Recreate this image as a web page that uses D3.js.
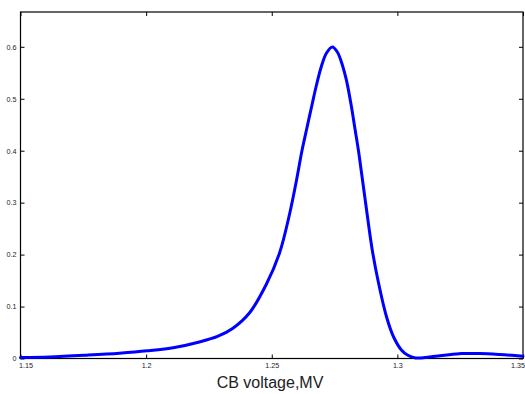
<!DOCTYPE html>
<html>
<head>
<meta charset="utf-8">
<script src="https://cdn.jsdelivr.net/npm/d3@7"></script>
<style>
html,body{margin:0;padding:0;background:#fff;}
svg{display:block;}
</style>
</head>
<body>
<svg id="chart" width="525" height="394"></svg>
<script>
const voltage = [1.1500,1.1615,1.1763,1.1894,1.2005,1.2113,1.2212,1.2284,1.2344,1.2411,1.2479,1.2531,1.2571,1.2598,1.2620,1.2639,1.2661,1.2678,1.2698,1.2718,1.2741,1.2761,1.2781,1.2797,1.2816,1.2832,1.2846,1.2872,1.2900,1.2925,1.2957,1.2985,1.3016,1.3040,1.3072,1.3128,1.3188,1.3255,1.3327,1.3407,1.3500];
const response = [0.0017,0.0029,0.0064,0.0102,0.0148,0.0212,0.0318,0.0424,0.0578,0.0876,0.1434,0.2031,0.2782,0.3417,0.3994,0.4418,0.4899,0.5265,0.5631,0.5881,0.5997,0.5901,0.5651,0.5362,0.4880,0.4399,0.3975,0.3051,0.2089,0.1454,0.0799,0.0414,0.0164,0.0067,0.0010,0.0029,0.0062,0.0094,0.0096,0.0077,0.0044];
const xTicks = [1.15,1.2,1.25,1.3,1.35];
const yTicks = [0,0.1,0.2,0.3,0.4,0.5,0.6];
const xDomain = [1.15,1.35];
const yDomain = [0,0.667];
const xLabel = "CB voltage,MV";

(function(){
const mL = 20.5, mT = 12, mR = 523, mB = 358.5;
const svg = d3.select("#chart");
const x = d3.scaleLinear().domain(xDomain).range([mL, mR]);
const y = d3.scaleLinear().domain(yDomain).range([mB, mT]);

const fmt = d => String(+d.toFixed(2));
const tickFont = "Liberation Sans, Arial, sans-serif";

svg.append("rect").attr("x", mL).attr("y", mT)
  .attr("width", mR-mL).attr("height", mB-mT)
  .attr("fill", "none").attr("stroke", "#000").attr("stroke-width", 1.2);

function styleAxis(g){
  g.select(".domain").remove();
  g.selectAll(".tick line").attr("stroke","#000").attr("stroke-width",1);
  g.selectAll(".tick text").attr("fill","#222").attr("font-family",tickFont).attr("font-size","7.2px");
}

const gB = svg.append("g").attr("transform",`translate(0,${mB})`)
  .call(d3.axisBottom(x).tickValues(xTicks).tickFormat(fmt).tickSizeInner(-4).tickSizeOuter(0).tickPadding(4));
styleAxis(gB);
gB.selectAll(".tick text").attr("dy","0.71em").attr("y",4);
gB.selectAll(".tick text").filter(d => d === xTicks[0]).attr("dx", 5);
gB.selectAll(".tick text").filter(d => d === xTicks[xTicks.length-1]).attr("text-anchor","end").attr("dx", 1.5);
const gT = svg.append("g").attr("transform",`translate(0,${mT})`)
  .call(d3.axisTop(x).tickValues(xTicks).tickSizeInner(-4).tickSizeOuter(0).tickFormat(""));
styleAxis(gT);
const gL = svg.append("g").attr("transform",`translate(${mL},0)`)
  .call(d3.axisLeft(y).tickValues(yTicks).tickFormat(fmt).tickSizeInner(-4).tickSizeOuter(0).tickPadding(4));
styleAxis(gL);
gL.selectAll(".tick text").attr("x",-4);
const gR = svg.append("g").attr("transform",`translate(${mR},0)`)
  .call(d3.axisRight(y).tickValues(yTicks).tickSizeInner(-4).tickSizeOuter(0).tickFormat(""));
styleAxis(gR);

const data = voltage.map((v,i)=>({v, r: response[i]}));
const line = d3.line().x(d=>x(d.v)).y(d=>y(d.r)).curve(d3.curveCatmullRom.alpha(0.5));
svg.append("path").datum(data).attr("d", line)
  .attr("fill","none").attr("stroke","#0000ff").attr("stroke-width",3)
  .attr("stroke-linejoin","round").attr("stroke-linecap","round");

svg.append("text").attr("x", 270).attr("y", 388)
  .attr("text-anchor","middle").attr("font-family",tickFont).attr("font-size","16px")
  .attr("fill","#222").text(xLabel);
})();
</script>
</body>
</html>
